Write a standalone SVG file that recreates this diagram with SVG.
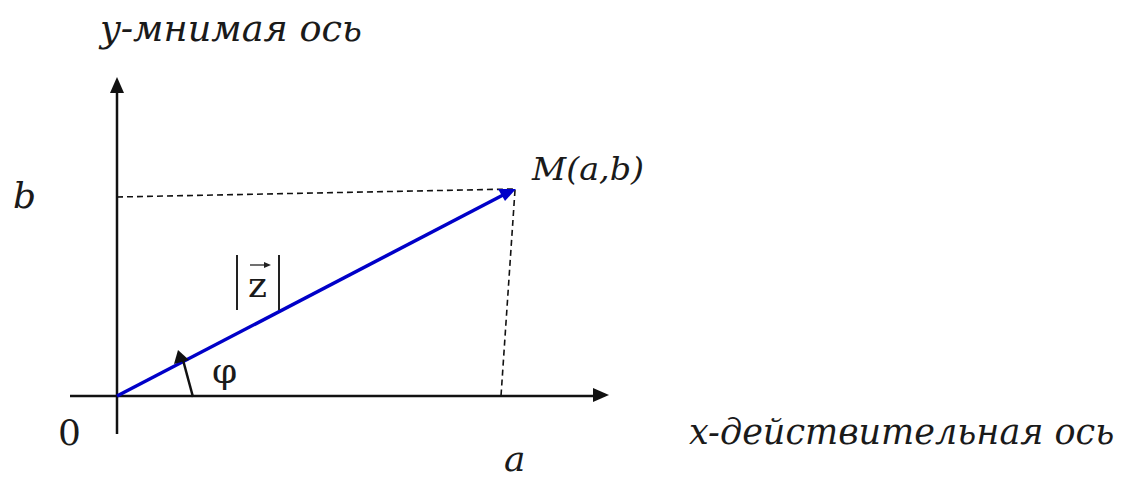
<svg xmlns="http://www.w3.org/2000/svg" width="1138" height="481" viewBox="0 0 1138 481">
<style>
.ax{stroke:#111;stroke-width:2.5;fill:none}
.d{stroke:#111;stroke-width:1.6;stroke-dasharray:6,4;fill:none}
</style>
<g id="connectors">
<path class="d" d="M117,197 L514,189"/>
<path class="d" d="M515,190 L501,396"/>
<path class="ax" d="M117,434 L117,92"/>
<polygon points="117,77 110,93 124,93" fill="#111"/>
<path class="ax" d="M70,396 L594,396"/>
<polygon points="609,395 593,388 593,402" fill="#111"/>
<path d="M117,396 L505,194" stroke="#0000c8" stroke-width="3.5" fill="none"/>
<polygon points="516,189 498,189 505,201" fill="#0000c8"/>
<path d="M193,397 L183,360" stroke="#111" stroke-width="2.5" fill="none"/>
<polygon points="178,350 174,364 189,360" fill="#111"/>
</g>
<g font-family="DejaVu Serif, serif" fill="#1a1a1a">
<g id="y-label"><text font-style="italic" x="100" y="41" font-size="38" textLength="262" lengthAdjust="spacingAndGlyphs">y-мнимая ось</text></g>
<g id="x-label"><text font-style="italic" x="689" y="444" font-size="35">x-действительная ось</text></g>
<g id="b-label"><text font-style="italic" x="13" y="208" font-size="36">b</text></g>
<g id="o-label"><text x="58" y="445" font-size="36">0</text></g>
<g id="a-label"><text font-style="italic" x="504" y="471" font-size="36">a</text></g>
<g id="m-label"><text font-style="italic" x="532" y="180" font-size="32" textLength="112" lengthAdjust="spacingAndGlyphs">M(a,b)</text></g>
<g id="phi-label"><text x="212" y="383" font-size="36">φ</text></g>
<g id="z-label">
<line x1="237" y1="255" x2="237" y2="310" stroke="#222" stroke-width="2"/>
<line x1="279" y1="255" x2="279" y2="310" stroke="#222" stroke-width="2"/>
<text x="248" y="297" font-size="36">z</text>
<line x1="250" y1="265" x2="266" y2="265" stroke="#222" stroke-width="1.3"/>
<polygon points="271,265 264,262 264,268" fill="#222"/>
</g>
</g>
</svg>
